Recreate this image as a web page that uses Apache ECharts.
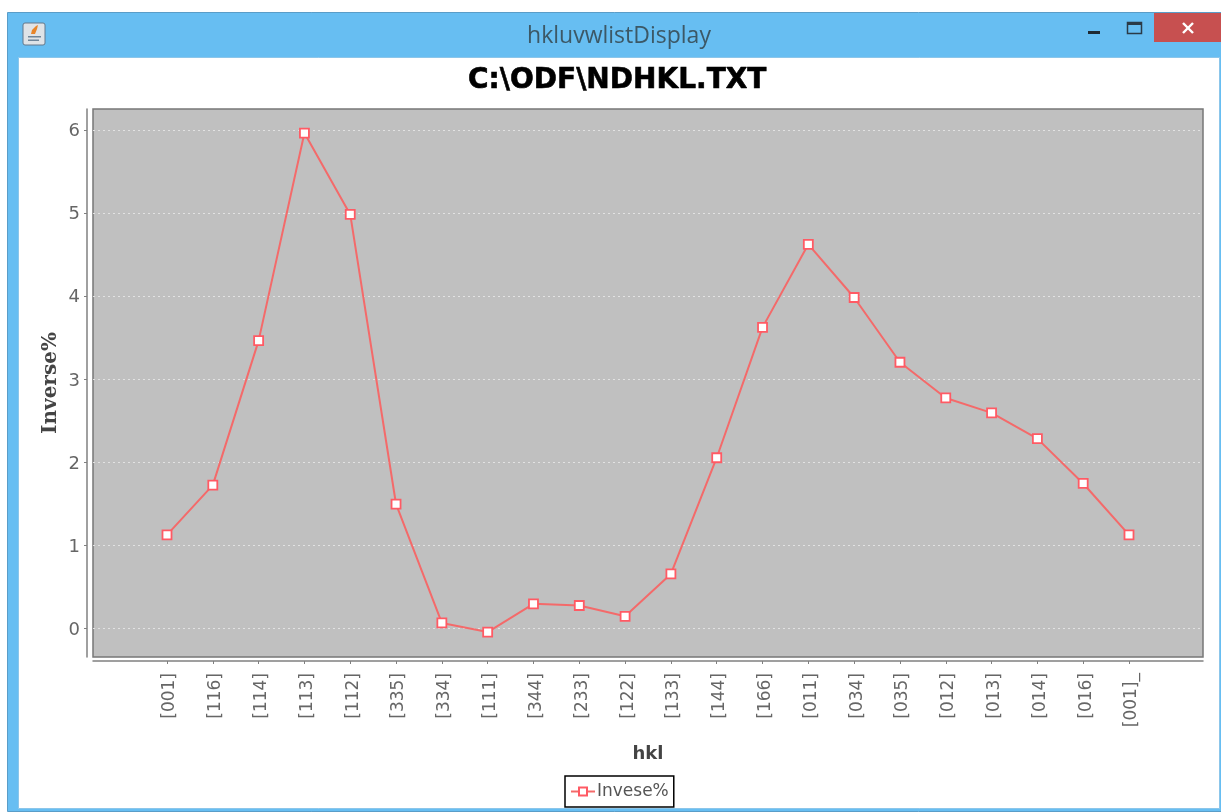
<!DOCTYPE html>
<html><head><meta charset="utf-8">
<style>html,body{margin:0;padding:0;background:#fff}#c{width:1221px;height:812px}</style>
<script src="https://cdn.jsdelivr.net/npm/echarts@6/dist/echarts.min.js"></script>
</head><body><div id="c"></div>
<script>
const categories = ['[001]','[116]','[114]','[113]','[112]','[335]','[334]','[111]','[344]','[233]','[122]','[133]','[144]','[166]','[011]','[034]','[035]','[012]','[013]','[014]','[016]','[001]_'];
const inverse = [1.12,1.72,3.46,5.96,4.98,1.49,0.06,-0.05,0.29,0.27,0.14,0.65,2.05,3.62,4.62,3.98,3.20,2.77,2.59,2.28,1.74,1.12];
const yTicks = [0,1,2,3,4,5,6];
const seriesName = 'Invese%';
const chartTitle = 'C:\\ODF\\NDHKL.TXT';
const windowTitle = 'hkluvwlistDisplay';
const yMin = -0.35, yMax = 6.25;

const font = '"DejaVu Sans"';
const chart = echarts.init(document.getElementById('c'), null, {renderer:'canvas'});
chart.setOption({
  animation:false,
  backgroundColor:'#fff',
  graphic:[
    {type:'rect',z:-10,shape:{x:7.5,y:12.5,width:1220,height:799},style:{fill:'#67BEF2',stroke:'#5A9DC8',lineWidth:1}},
    {type:'rect',z:-9,shape:{x:18.5,y:57.5,width:1201,height:751},style:{fill:'#fff',stroke:'#8CC6EA',lineWidth:1}},
    {type:'rect',z:-8,shape:{x:1154,y:13,width:67,height:29},style:{fill:'#C75050'}},
    {type:'line',z:10,shape:{x1:1183,y1:23,x2:1193,y2:33},style:{stroke:'#fff',lineWidth:2.4}},
    {type:'line',z:10,shape:{x1:1193,y1:23,x2:1183,y2:33},style:{stroke:'#fff',lineWidth:2.4}},
    {type:'rect',z:10,shape:{x:1127.5,y:22.5,width:14,height:11},style:{fill:'none',stroke:'#2b3b47',lineWidth:1.5}},
    {type:'rect',z:10,shape:{x:1127,y:22,width:15,height:3},style:{fill:'#2b3b47'}},
    {type:'rect',z:10,shape:{x:1088,y:31,width:12,height:3},style:{fill:'#1f2a33'}},
    {type:'text',z:10,x:619,y:36,style:{text:windowTitle,fill:'#3c5866',font:'23px "Open Sans"',textAlign:'center',textVerticalAlign:'middle'}},
    {type:'rect',z:10,shape:{x:23,y:23,width:22,height:22,r:2},style:{fill:'#dfe3e7',stroke:'#64798c',lineWidth:1}},
    {type:'rect',z:11,shape:{x:28,y:36,width:13,height:1.5},style:{fill:'#6f8599'}},
    {type:'rect',z:11,shape:{x:28,y:39.5,width:11,height:1.5},style:{fill:'#6f8599'}},
    {type:'polygon',z:11,shape:{points:[[31,34],[32,30],[36,26],[38,25],[37,29],[35,34]]},style:{fill:'#e8852a'}}
  ],
  title:{text:chartTitle,left:468,top:67,padding:0,itemGap:0,
    textStyle:{fontFamily:font,fontWeight:'bold',fontSize:28,color:'#000',textBorderColor:'#000',textBorderWidth:0.6}},
  legend:{
    data:[seriesName],left:565,top:776,orient:'horizontal',
    backgroundColor:'#fff',borderColor:'#000',borderWidth:1.5,borderRadius:0,
    padding:[7,5,7,5],itemWidth:24,itemHeight:10,itemGap:0,
    textStyle:{fontFamily:font,fontSize:17,color:'#555',padding:[0,0,0,-3]}
  },
  grid:[
    {left:93,top:109,width:1110,height:548,show:true,backgroundColor:'#C0C0C0',borderColor:'#777',borderWidth:1.5,containLabel:false},
    {left:167,top:109,width:962,height:548,show:false}
  ],
  xAxis:[
    {gridIndex:0,type:'value',min:0,max:1,position:'bottom',offset:4,
      axisLine:{show:true,onZero:false,lineStyle:{color:'#808080',width:1.5}},axisTick:{show:false},axisLabel:{show:false},splitLine:{show:false}},
    {gridIndex:1,type:'category',data:categories,boundaryGap:false,position:'bottom',offset:4,
      name:'hkl',nameLocation:'middle',nameGap:84,nameMoveOverlap:false,
      nameTextStyle:{fontFamily:font,fontWeight:'bold',fontSize:18,color:'#444'},
      axisLine:{show:false,onZero:false},
      axisTick:{show:true,length:3,alignWithLabel:true,lineStyle:{color:'#808080'}},
      axisLabel:{interval:0,rotate:90,margin:12,verticalAlign:'top',lineHeight:6,fontFamily:font,fontSize:17,color:'#666'},
      splitLine:{show:false}}
  ],
  yAxis:[
    {gridIndex:0,type:'value',min:yMin,max:yMax,position:'left',offset:6,
      name:'Inverse%',nameLocation:'middle',nameGap:26,nameRotate:90,nameMoveOverlap:false,
      nameTextStyle:{fontFamily:'"DejaVu Serif"',fontWeight:'bold',fontSize:20,color:'#444'},
      customValues:yTicks,
      axisLine:{show:true,onZero:false,lineStyle:{color:'#808080',width:1.5}},
      axisTick:{show:true,length:3,customValues:yTicks,lineStyle:{color:'#808080'}},
      axisLabel:{customValues:yTicks,margin:7,verticalAlign:'top',lineHeight:4,fontFamily:font,fontSize:18,color:'#666',
        formatter:v=>String(v)},
      splitLine:{show:true,lineStyle:{color:'#e2e2e2',type:[2,3],width:1}}},
    {gridIndex:1,type:'value',min:yMin,max:yMax,show:false,splitLine:{show:false}}
  ],
  series:[{
    name:seriesName,type:'line',xAxisIndex:1,yAxisIndex:1,data:inverse,
    symbol:'rect',symbolSize:9,showSymbol:true,
    lineStyle:{color:'#F46A6A',width:2},
    itemStyle:{color:'#fff',borderColor:'#FF5A64',borderWidth:1.8}
  }]
});
</script></body></html>
